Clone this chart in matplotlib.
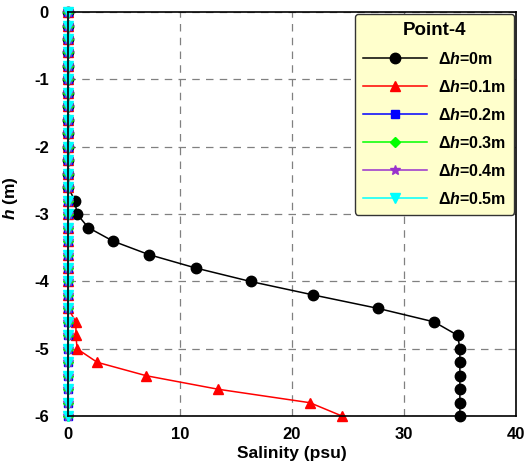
import numpy as np
import matplotlib
matplotlib.use('Agg')
from matplotlib import pyplot as plt

plt.rcParams['font.family'] = ['Liberation Sans', 'DejaVu Sans']
plt.rcParams['font.weight'] = 'bold'
plt.rcParams['axes.unicode_minus'] = False
plt.rcParams['mathtext.fontset'] = 'custom'
plt.rcParams['mathtext.rm'] = 'Liberation Sans:bold'
plt.rcParams['mathtext.bf'] = 'Liberation Sans:bold'
plt.rcParams['mathtext.it'] = 'Liberation Sans:italic:bold'
plt.rcParams['mathtext.bfit'] = 'Liberation Sans:italic:bold'

# depth levels (m)
depth = [0.0, -0.2, -0.4, -0.6, -0.8, -1.0, -1.2, -1.4, -1.6, -1.8, -2.0,
         -2.2, -2.4, -2.6, -2.8, -3.0, -3.2, -3.4, -3.6, -3.8, -4.0,
         -4.2, -4.4, -4.6, -4.8, -5.0, -5.2, -5.4, -5.6, -5.8, -6.0]

# salinity (psu) for each dh
sal_0 = [0, 0, 0, 0, 0, 0, 0, 0, 0, 0, 0,
         0, 0, 0, 0.6, 0.8, 1.8, 4.0, 7.2, 11.4, 16.3,
         21.9, 27.7, 32.7, 34.8, 35.0, 35.0, 35.0, 35.0, 35.0, 35.0]
sal_01 = [0, 0, 0, 0, 0, 0, 0, 0, 0, 0, 0,
          0, 0, 0, 0, 0, 0, 0, 0, 0, 0,
          0, 0, 0.7, 0.7, 0.8, 2.6, 7.0, 13.4, 21.6, 24.5]
sal_02 = [0] * 31
sal_03 = [0] * 31
sal_04 = [0] * 31
sal_05 = [0] * 31

labels = ['0', '0.1', '0.2', '0.3', '0.4', '0.5']

fig = plt.figure(figsize=(5.28, 4.65), dpi=100)
ax = fig.add_axes([0.129, 0.105, 0.848, 0.869])

series = [sal_0, sal_01, sal_02, sal_03, sal_04, sal_05]
colors = ['black', 'red', 'blue', '#00FF00', '#9932CC', 'cyan']
markers = ['o', '^', 's', 'D', '*', 'v']
msizes = [7.5, 7.5, 6, 5.5, 7, 7.5]

for s, c, m, ms, lab in zip(series, colors, markers, msizes, labels):
    ax.plot(s, depth, color=c, marker=m, markersize=ms, linewidth=1.1,
            markeredgecolor=c, clip_on=False,
            label=r'$\Delta\mathbfit{h}$=' + lab + 'm')

ax.set_xlim(0, 40)
ax.set_ylim(-6, 0)
ax.set_xticks([0, 10, 20, 30, 40])
ax.set_yticks([0, -1, -2, -3, -4, -5, -6])
ax.grid(True, linestyle=(0, (6, 5)), color='gray', linewidth=0.9)
ax.tick_params(direction='in', length=0, labelsize=12)
ax.tick_params(axis='x', pad=8)
ax.tick_params(axis='y', pad=14)
for lbl in ax.get_xticklabels() + ax.get_yticklabels():
    lbl.set_fontweight('bold')
for sp in ax.spines.values():
    sp.set_linewidth(1.2)

ax.set_xlabel('Salinity (psu)', fontsize=12.5, fontweight='bold', labelpad=3)
ax.set_ylabel(r'$\mathbfit{h}$ (m)', fontsize=12.5, fontweight='bold')
ax.yaxis.set_label_coords(-0.108, 0.54)

leg = ax.legend(loc='upper right', title='Point-4', fontsize=11.5,
                handlelength=4.0, borderaxespad=0.1, labelspacing=0.75,
                fancybox=True, framealpha=1, borderpad=0.5, handletextpad=0.7)
leg.get_title().set_fontweight('bold')
leg.get_title().set_fontsize(13.5)
leg.get_frame().set_facecolor('#FFFFCC')
leg.get_frame().set_edgecolor('#333333')
for t in leg.get_texts():
    t.set_fontweight('bold')

plt.savefig('out.png', dpi=100)
